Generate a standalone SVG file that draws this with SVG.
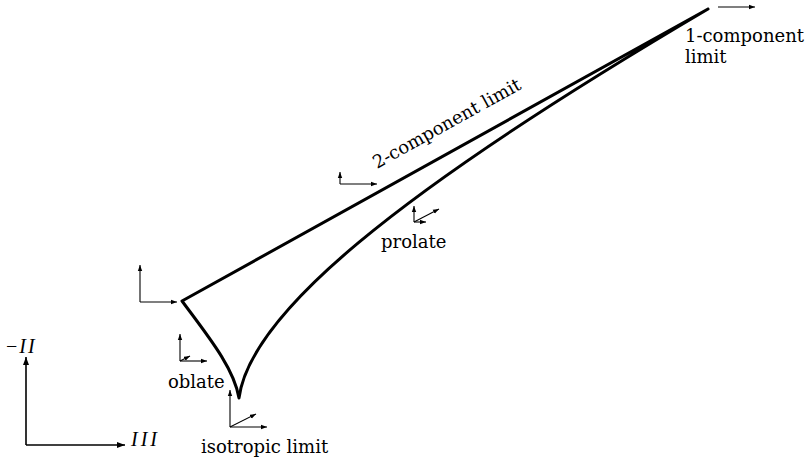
<svg xmlns="http://www.w3.org/2000/svg" width="810" height="462" viewBox="0 0 810 462">
<style>
.curve{fill:none;stroke:#000;stroke-width:3;stroke-linejoin:round;stroke-linecap:round}
.ax{fill:none;stroke:#000;stroke-width:1.6;marker-end:url(#big)}
.sm{fill:none;stroke:#000;stroke-width:1.1;marker-end:url(#small)}
.lbl{font-family:"DejaVu Serif","Liberation Serif",serif;font-size:18px;fill:#000}
.math{font-family:"Liberation Serif","DejaVu Serif",serif;font-size:20px;font-style:italic;fill:#000;letter-spacing:3px}
</style>
<defs>
<marker id="big" markerUnits="userSpaceOnUse" markerWidth="10" markerHeight="8" refX="8" refY="4" orient="auto">
<path d="M0,1 L8,4 L0,7 Z" fill="#000"/>
</marker>
<marker id="small" markerUnits="userSpaceOnUse" markerWidth="7" markerHeight="6" refX="6" refY="3" orient="auto">
<path d="M0,0.8 L6,3 L0,5.2 Z" fill="#000"/>
</marker>
</defs>
<g id="region">
<path class="curve" d="M708,9 L182,301 C208,336 234,368 239,398 C250,315 392,195 708,9"/>
</g>
<g id="connectors">
<path class="ax" d="M26,445 L26,357"/>
<path class="ax" d="M26,445 L125,445"/>
</g>
<g id="axes-label">
<text class="math" x="6" y="353" style="letter-spacing:2px"><tspan font-style="normal">−</tspan>II</text>
<text class="math" x="131" y="446">III</text>
</g>
<g id="two-comp-vertex">
<path class="sm" d="M140,302 L140,265"/>
<path class="sm" d="M140,302 L177,302"/>
</g>
<g id="oblate">
<path class="sm" d="M180,361 L180,334"/>
<path class="sm" d="M180,361 L207,361"/>
<path class="sm" d="M180,361 L190,356"/>
<text class="lbl" x="168" y="388">oblate</text>
</g>
<g id="isotropic">
<path class="sm" d="M230,427 L230,390"/>
<path class="sm" d="M230,427 L267,427"/>
<path class="sm" d="M230,427 L256,414"/>
<text class="lbl" x="201" y="453">isotropic limit</text>
</g>
<g id="prolate">
<path class="sm" d="M414,222 L414,206"/>
<path class="sm" d="M414,222 L426,222"/>
<path class="sm" d="M414,222 L439,209"/>
<text class="lbl" x="381" y="248">prolate</text>
</g>
<g id="two-component">
<path class="sm" d="M340,184 L340,172"/>
<path class="sm" d="M340,184 L377,184"/>
<text class="lbl" transform="translate(377,169) rotate(-29)">2-component limit</text>
</g>
<g id="one-component">
<path class="sm" d="M718,7 L755,7"/>
<text class="lbl" x="685" y="42">1-component</text>
<text class="lbl" x="685" y="63">limit</text>
</g>
</svg>
